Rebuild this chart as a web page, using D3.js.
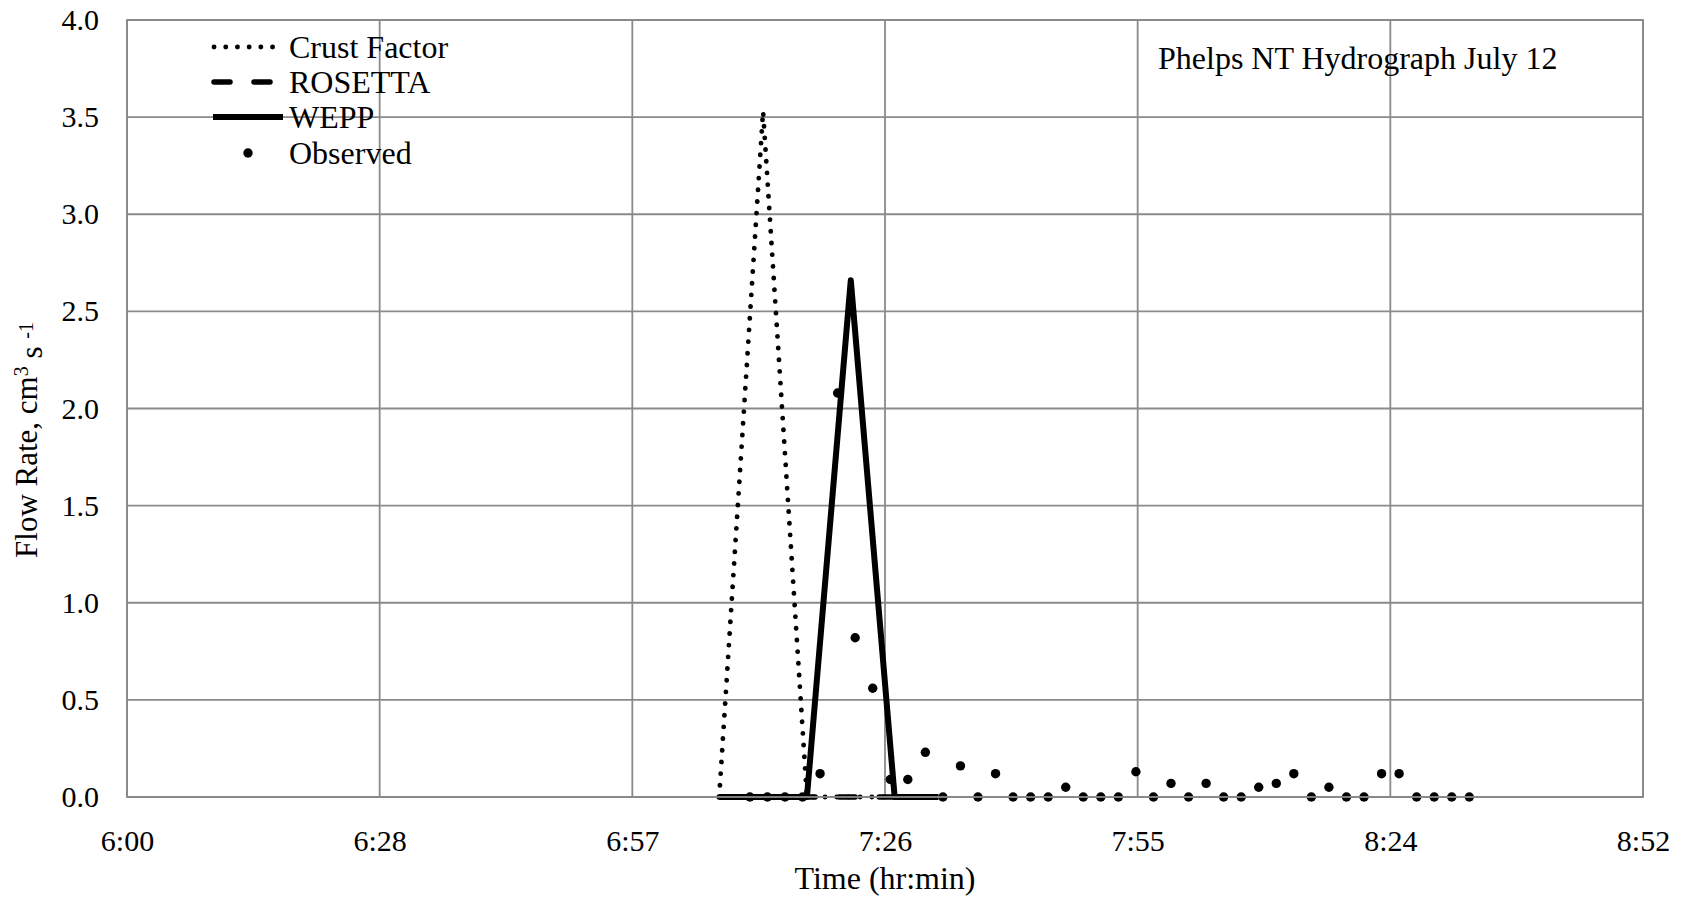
<!DOCTYPE html>
<html>
<head>
<meta charset="utf-8">
<script src="https://cdn.jsdelivr.net/npm/d3@7"></script>
<style>
  body { margin: 0; background: #fff; }
  svg text { font-family: "Liberation Serif", "Times New Roman", serif; fill: #000; }
</style>
</head>
<body>
<div id="graph"></div>
<script>
// x axis ticks (Excel time axis, 0.02 day steps)
var tickLabels = ["6:00", "6:28", "6:57", "7:26", "7:55", "8:24", "8:52"];
var tickTimes = ["6:00:00", "6:28:48", "6:57:36", "7:26:24", "7:55:12", "8:24:00", "8:52:48"];
var yTicks = [0, 0.5, 1.0, 1.5, 2.0, 2.5, 3.0, 3.5, 4.0];

// model output times
var modelTimes = ["7:07:30", "7:12:30", "7:17:30", "7:22:30", "7:27:30", "7:32:30"];
var crustFactor = [0, 3.53, 0, 0, 0, 0];
var rosetta = [0, 0, 0, 0, 0, 0];
var wepp = [0, 0, 0, 2.66, 0, 0];

// observed flow
var obsTimes = ["7:11", "7:13", "7:15", "7:17", "7:19", "7:21", "7:23", "7:25", "7:27", "7:29",
  "7:31", "7:33", "7:35", "7:37", "7:39", "7:41", "7:43", "7:45", "7:47", "7:49",
  "7:51", "7:53", "7:55", "7:57", "7:59", "8:01", "8:03", "8:05", "8:07", "8:09",
  "8:11", "8:13", "8:15", "8:17", "8:19", "8:21", "8:23", "8:25", "8:27", "8:29",
  "8:31", "8:33"];
var observed = [0, 0, 0, 0, 0.12, 2.08, 0.82, 0.56, 0.09, 0.09,
  0.23, 0, 0.16, 0, 0.12, 0, 0, 0, 0.05, 0,
  0, 0, 0.13, 0, 0.07, 0, 0.07, 0, 0, 0.05,
  0.07, 0.12, 0, 0.05, 0, 0, 0.12, 0.12, 0, 0,
  0, 0];

var seriesNames = ["Crust Factor", "ROSETTA", "WEPP", "Observed"];
var chartTitle = "Phelps NT Hydrograph July 12";

// "h:mm[:ss]" -> minutes since midnight
function toMin(s) {
  var p = s.split(":").map(Number);
  return p[0] * 60 + p[1] + (p[2] || 0) / 60;
}

var W = 1690, H = 899;
var margin = {top: 20, right: 47, bottom: 102, left: 127},
    width = W - margin.left - margin.right,
    height = H - margin.top - margin.bottom;

var svg = d3.select("#graph").append("svg")
    .attr("width", W)
    .attr("height", H);

var g = svg.append("g")
    .attr("transform", "translate(" + margin.left + "," + margin.top + ")");

var x = d3.scaleLinear().domain([toMin(tickTimes[0]), toMin(tickTimes[tickTimes.length - 1])]).range([0, width]);
var y = d3.scaleLinear().domain([0, 4]).range([height, 0]);

var gridColor = "#8a8a8a";

// gridlines
g.selectAll(".hgrid").data(yTicks).enter().append("line")
    .attr("x1", 0).attr("x2", width)
    .attr("y1", function(d) { return y(d); })
    .attr("y2", function(d) { return y(d); })
    .attr("stroke", gridColor).attr("stroke-width", 1.8);

g.selectAll(".vgrid").data(tickTimes).enter().append("line")
    .attr("y1", 0).attr("y2", height)
    .attr("x1", function(d) { return x(toMin(d)); })
    .attr("x2", function(d) { return x(toMin(d)); })
    .attr("stroke", gridColor).attr("stroke-width", 1.8);

// y axis labels
var yAxis = d3.axisLeft(y).tickValues(yTicks).tickFormat(d3.format(".1f")).tickSize(0).tickPadding(28);
var ya = g.append("g").call(yAxis);
ya.select(".domain").remove();
ya.selectAll("text").style("font-size", "30px").attr("font-family", null);

// x axis labels
var xAxis = d3.axisBottom(x).tickValues(tickTimes.map(toMin))
    .tickFormat(function(d, i) { return tickLabels[i]; }).tickSize(0).tickPadding(33);
var xa = g.append("g").attr("transform", "translate(0," + height + ")").call(xAxis);
xa.select(".domain").remove();
xa.selectAll("text").style("font-size", "30px").attr("font-family", null);

// series lines
var line = d3.line()
    .x(function(d) { return x(d.t); })
    .y(function(d) { return y(d.v); });

function pts(times, vals) {
  return times.map(function(t, i) { return {t: toMin(t), v: vals[i]}; });
}

var styles = [
  {w: 4.8, dash: "0.1 11.6", cap: "round"},
  {w: 5.5, dash: "16 24", cap: "round"},
  {w: 6, dash: null, cap: "butt"}
];

[crustFactor, rosetta, wepp].forEach(function(vals, i) {
  g.append("path")
      .datum(pts(modelTimes, vals))
      .attr("fill", "none")
      .attr("stroke", "#000")
      .attr("stroke-width", styles[i].w)
      .attr("stroke-linecap", styles[i].cap)
      .attr("stroke-linejoin", "round")
      .attr("stroke-dasharray", styles[i].dash)
      .attr("d", line);
});

// observed points
g.selectAll(".obs").data(pts(obsTimes, observed)).enter().append("circle")
    .attr("cx", function(d) { return x(d.t); })
    .attr("cy", function(d) { return y(d.v); })
    .attr("r", 4.7)
    .attr("fill", "#000");

// plot border
g.append("rect")
    .attr("width", width).attr("height", height)
    .attr("fill", "none").attr("stroke", gridColor).attr("stroke-width", 1.8);

// legend
var leg = svg.append("g").attr("transform", "translate(213,0)");
var rowY = [47, 82, 117, 153];
[0, 1, 2].forEach(function(i) {
  leg.append("line")
      .attr("x1", i == 2 ? 0 : 1).attr("x2", i == 2 ? 70 : 60)
      .attr("y1", rowY[i]).attr("y2", rowY[i])
      .attr("stroke", "#000")
      .attr("stroke-width", styles[i].w)
      .attr("stroke-linecap", styles[i].cap)
      .attr("stroke-dasharray", styles[i].dash);
});
leg.append("circle").attr("cx", 35).attr("cy", rowY[3]).attr("r", 4.7).attr("fill", "#000");
leg.selectAll(".lt").data(seriesNames).enter().append("text")
    .attr("x", 76)
    .attr("y", function(d, i) { return rowY[i]; })
    .attr("dy", "0.35em")
    .style("font-size", "32px")
    .text(function(d) { return d; });

// chart title
svg.append("text")
    .attr("x", 1158).attr("y", 58).attr("dy", "0.35em")
    .style("font-size", "32px")
    .text(chartTitle);

// axis titles
svg.append("text")
    .attr("x", margin.left + width / 2).attr("y", 878).attr("dy", "0.35em")
    .attr("text-anchor", "middle")
    .style("font-size", "32px")
    .text("Time (hr:min)");

var yt = svg.append("text")
    .attr("transform", "translate(37,440) rotate(-90)")
    .attr("text-anchor", "middle")
    .style("font-size", "31px");
yt.append("tspan").text("Flow Rate, cm");
yt.append("tspan").attr("dy", "-0.45em").style("font-size", "20px").text("3");
yt.append("tspan").attr("dy", "0.45em").text(" s ");
yt.append("tspan").attr("dy", "-0.45em").style("font-size", "20px").text("-1");
</script>
</body>
</html>
